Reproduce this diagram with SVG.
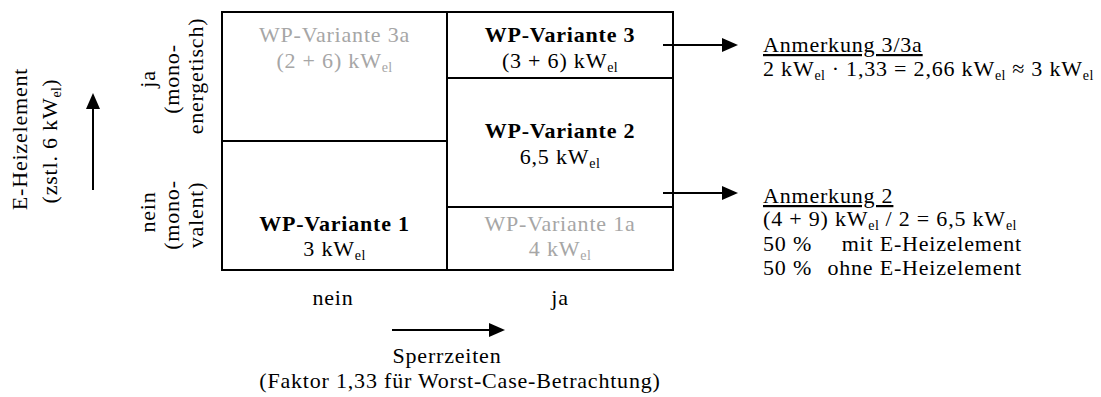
<svg xmlns="http://www.w3.org/2000/svg" width="1101" height="397" viewBox="0 0 1101 397">
<style>
text{font-family:"Liberation Serif","Times New Roman",serif;font-size:22px;letter-spacing:0.8px;fill:#000}
.b{font-weight:bold}
.g{fill:#a6a6a6}
.m{text-anchor:middle}
.e{text-anchor:end}
.u{text-decoration:underline}
.sub{font-size:14px;letter-spacing:0.4px}
.cell{fill:#fff;stroke:#000;stroke-width:2}
.arr{stroke:#000;stroke-width:2;fill:none;marker-end:url(#ah)}
</style>
<defs>
<marker id="ah" markerUnits="userSpaceOnUse" markerWidth="16" markerHeight="14" refX="1" refY="7" orient="auto">
<path d="M0,0 L16,7 L0,14 z" fill="#000"/>
</marker>
</defs>
<rect width="1101" height="397" fill="#fff"/>

<g id="cell-3a">
<rect class="cell" x="222" y="12" width="225" height="129"/>
<text class="m g" x="334.5" y="42">WP-Variante 3a</text>
<text class="m g" x="334.5" y="68">(2 + 6) kW<tspan class="sub" dy="4">el</tspan></text>
</g>
<g id="cell-1">
<rect class="cell" x="222" y="141" width="225" height="129"/>
<text class="m b" x="334.5" y="231">WP-Variante 1</text>
<text class="m" x="334.5" y="256">3 kW<tspan class="sub" dy="4">el</tspan></text>
</g>
<g id="cell-3">
<rect class="cell" x="447" y="12" width="226" height="66"/>
<text class="m b" x="560" y="42">WP-Variante 3</text>
<text class="m" x="560" y="68">(3 + 6) kW<tspan class="sub" dy="4">el</tspan></text>
</g>
<g id="cell-2">
<rect class="cell" x="447" y="78" width="226" height="129"/>
<text class="m b" x="560" y="138">WP-Variante 2</text>
<text class="m" x="560" y="164">6,5 kW<tspan class="sub" dy="4">el</tspan></text>
</g>
<g id="cell-1a">
<rect class="cell" x="447" y="207" width="226" height="63"/>
<text class="m g" x="560" y="231">WP-Variante 1a</text>
<text class="m g" x="560" y="256">4 kW<tspan class="sub" dy="4">el</tspan></text>
</g>

<g id="axis-y">
<text class="m" transform="translate(27,139) rotate(-90)" x="0" y="0">E-Heizelement</text>
<text class="m" transform="translate(57,141) rotate(-90)" x="0" y="0">(zstl. 6 kW<tspan class="sub" dy="4">el</tspan><tspan dy="-4">)</tspan></text>
</g>
<g id="label-ja">
<text class="m" transform="translate(155,79) rotate(-90)" x="0" y="0">ja</text>
<text class="m" transform="translate(179,79) rotate(-90)" x="0" y="0">(mono-</text>
<text class="m" transform="translate(203,76) rotate(-90)" x="0" y="0">energetisch)</text>
</g>
<g id="label-nein">
<text class="m" transform="translate(155,212) rotate(-90)" x="0" y="0">nein</text>
<text class="m" transform="translate(179,215) rotate(-90)" x="0" y="0">(mono-</text>
<text class="m" transform="translate(203,215) rotate(-90)" x="0" y="0">valent)</text>
</g>
<g id="axis-x">
<text class="m" x="333" y="305">nein</text>
<text class="m" x="560" y="305">ja</text>
<text class="m" x="447" y="363">Sperrzeiten</text>
<text class="m" x="460" y="388">(Faktor 1,33 für Worst-Case-Betrachtung)</text>
</g>
<g id="note-3">
<text class="u" x="763" y="52">Anmerkung 3/3a</text>
<text x="763" y="76">2 kW<tspan class="sub" dy="4">el</tspan><tspan dy="-4"> · 1,33 = 2,66 kW</tspan><tspan class="sub" dy="4">el</tspan><tspan dy="-4"> ≈ 3 kW</tspan><tspan class="sub" dy="4">el</tspan></text>
</g>
<g id="note-2">
<text class="u" x="763" y="203">Anmerkung 2</text>
<text x="763" y="226">(4 + 9) kW<tspan class="sub" dy="4">el</tspan><tspan dy="-4"> / 2 = 6,5 kW</tspan><tspan class="sub" dy="4">el</tspan></text>
<text x="763" y="251">50 %</text>
<text class="e" x="1022" y="251">mit E-Heizelement</text>
<text x="763" y="275">50 %</text>
<text class="e" x="1022" y="275">ohne E-Heizelement</text>
</g>

<g id="connectors">
<line class="arr" x1="93" y1="190" x2="93" y2="108"/>
<line class="arr" x1="392" y1="330" x2="490" y2="330"/>
<line class="arr" x1="663" y1="45" x2="723" y2="45"/>
<line class="arr" x1="663" y1="193" x2="723" y2="193"/>
</g>
</svg>
